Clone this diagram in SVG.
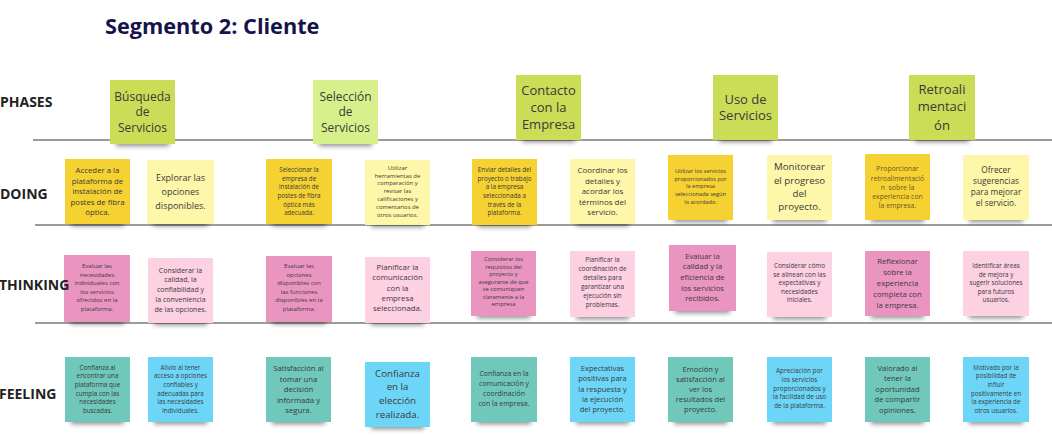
<svg xmlns="http://www.w3.org/2000/svg" width="1052" height="435" viewBox="0 0 1052 435">
<style>
.t{font-family:"Open Sans","Liberation Sans",sans-serif;fill:#3a3a3a;text-anchor:middle}
.lbl{font-family:"Open Sans","Liberation Sans",sans-serif;font-weight:bold;font-size:14px;fill:#222}
.title{font-family:"Open Sans","Liberation Sans",sans-serif;font-weight:bold;font-size:21.7px;fill:#15144a}
.sep{stroke:#7a7a7a;stroke-width:1.5;fill:none}
.sh{fill:#000;opacity:.45;filter:url(#blur)}
.lime{fill:#cbdc57}.lime2{fill:#d8f08c}
.yd{fill:#f5d131}.yl{fill:#fef6a8}
.pd{fill:#ea94c0}.pl{fill:#fdd0e2}
.tl{fill:#6fc8b9}.bl{fill:#6dd6f8}
</style>
<defs>
<filter id="blur" x="-20%" y="-100%" width="140%" height="300%"><feGaussianBlur stdDeviation="2.5"/></filter>
</defs>
<rect width="1052" height="435" fill="#fff"/>
<text class="title" x="105" y="34">Segmento 2: Cliente</text>
<g id="connectors">
<line class="sep" x1="33" y1="140" x2="1052" y2="140"/>
<line class="sep" x1="35" y1="225" x2="1052" y2="225"/>
<line class="sep" x1="35" y1="323" x2="1052" y2="323"/>
</g>
<!-- PHASES -->
<g id="phase1"><rect class="sh" x="116" y="137" width="53" height="9"/><rect class="lime" x="110" y="80" width="65" height="64"/>
<text class="t" font-size="12"><tspan x="142.5" y="101.2">Búsqueda</tspan><tspan x="142.5" y="116.4">de</tspan><tspan x="142.5" y="132">Servicios</tspan></text></g>
<g id="phase2"><rect class="sh" x="319" y="137" width="53" height="9"/><rect class="lime2" x="313" y="80" width="65" height="64"/>
<text class="t" font-size="12"><tspan x="345.5" y="101.2">Selección</tspan><tspan x="345.5" y="116.4">de</tspan><tspan x="345.5" y="132">Servicios</tspan></text></g>
<g id="phase3"><rect class="sh" x="522" y="133" width="53" height="9"/><rect class="lime" x="516" y="75" width="65" height="65"/>
<text class="t" font-size="13"><tspan x="548.5" y="95.2">Contacto</tspan><tspan x="548.5" y="112.2">con la</tspan><tspan x="548.5" y="128.8">Empresa</tspan></text></g>
<g id="phase4"><rect class="sh" x="719" y="133" width="53" height="9"/><rect class="lime" x="713" y="75" width="65" height="65"/>
<text class="t" font-size="13"><tspan x="745.5" y="103.5">Uso de</tspan><tspan x="745.5" y="120.2">Servicios</tspan></text></g>
<g id="phase5"><rect class="sh" x="915" y="133" width="54" height="9"/><rect class="lime" x="909" y="75" width="66" height="65"/>
<text class="t" font-size="13"><tspan x="942" y="93.8">Retroali</tspan><tspan x="942" y="111.2">mentaci</tspan><tspan x="942" y="129.5">ón</tspan></text></g>
<!-- DOING -->
<g id="doing1"><rect class="sh" x="71" y="217" width="53" height="9"/><rect class="yd" x="65" y="159" width="65" height="65"/>
<text class="t" font-size="7.8"><tspan x="97.5" y="172.9">Acceder a la</tspan><tspan x="97.5" y="183.5">plataforma de</tspan><tspan x="97.5" y="194.1">instalación de</tspan><tspan x="97.5" y="204.7">postes de fibra</tspan><tspan x="97.5" y="215.3">óptica.</tspan></text></g>
<g id="doing2"><rect class="sh" x="153" y="217" width="55" height="9"/><rect class="yl" x="147" y="160" width="67" height="64"/>
<text class="t" font-size="9"><tspan x="180.5" y="181.3">Explorar las</tspan><tspan x="180.5" y="195.3">opciones</tspan><tspan x="180.5" y="208.8">disponibles.</tspan></text></g>
<g id="doing3"><rect class="sh" x="272" y="217" width="54" height="9"/><rect class="yd" x="266" y="159" width="66" height="65"/>
<text class="t" font-size="6.2"><tspan x="299" y="172.2">Seleccionar la</tspan><tspan x="299" y="180.8">empresa de</tspan><tspan x="299" y="189.4">instalación de</tspan><tspan x="299" y="198">postes de fibra</tspan><tspan x="299" y="206.6">óptica más</tspan><tspan x="299" y="215.2">adecuada.</tspan></text></g>
<g id="doing4"><rect class="sh" x="371" y="218" width="53" height="9"/><rect class="yl" x="365" y="160" width="65" height="65"/>
<text class="t" font-size="5.9"><tspan x="397.5" y="169.8">Utilizar</tspan><tspan x="397.5" y="177.6">herramientas de</tspan><tspan x="397.5" y="185.4">comparación y</tspan><tspan x="397.5" y="193.2">revisar las</tspan><tspan x="397.5" y="200.9">calificaciones y</tspan><tspan x="397.5" y="208.7">comentarios de</tspan><tspan x="397.5" y="216.5">otros usuarios.</tspan></text></g>
<g id="doing5"><rect class="sh" x="478" y="218" width="53" height="9"/><rect class="yd" x="472" y="159" width="65" height="66"/>
<text class="t" font-size="6.3"><tspan x="504.5" y="172.2">Enviar detalles del</tspan><tspan x="504.5" y="180.8">proyecto o trabajo</tspan><tspan x="504.5" y="189.4">a la empresa</tspan><tspan x="504.5" y="198">seleccionada a</tspan><tspan x="504.5" y="206.6">través de la</tspan><tspan x="504.5" y="215.2">plataforma.</tspan></text></g>
<g id="doing6"><rect class="sh" x="576" y="217" width="53" height="9"/><rect class="yl" x="570" y="159" width="65" height="65"/>
<text class="t" font-size="8"><tspan x="602.5" y="172.9">Coordinar los</tspan><tspan x="602.5" y="183.5">detalles y</tspan><tspan x="602.5" y="194.1">acordar los</tspan><tspan x="602.5" y="204.7">términos del</tspan><tspan x="602.5" y="215.3">servicio.</tspan></text></g>
<g id="doing7"><rect class="sh" x="674" y="213" width="53" height="9"/><rect class="yd" x="668" y="155" width="65" height="65"/>
<text class="t" font-size="5.6"><tspan x="700.5" y="172.7">Utilizar los servicios</tspan><tspan x="700.5" y="180.5">proporcionados por</tspan><tspan x="700.5" y="188.2">la empresa</tspan><tspan x="700.5" y="196">seleccionada según</tspan><tspan x="700.5" y="203.7">lo acordado.</tspan></text></g>
<g id="doing8"><rect class="sh" x="773" y="213" width="53" height="9"/><rect class="yl" x="767" y="155" width="65" height="65"/>
<text class="t" font-size="9.7"><tspan x="799.5" y="170.2">Monitorear</tspan><tspan x="799.5" y="183.5">el progreso</tspan><tspan x="799.5" y="196.8">del</tspan><tspan x="799.5" y="210.1">proyecto.</tspan></text></g>
<g id="doing9"><rect class="sh" x="871" y="213" width="53" height="9"/><rect class="yd" x="865" y="154" width="65" height="66"/>
<text class="t" font-size="6.9" style="fill:#6e5a24"><tspan x="897.5" y="171.4">Proporcionar</tspan><tspan x="897.5" y="180.6">retroalimentació</tspan><tspan x="897.5" y="189.8">n&#160; sobre la</tspan><tspan x="897.5" y="199">experiencia con</tspan><tspan x="897.5" y="208.2">la empresa.</tspan></text></g>
<g id="doing10"><rect class="sh" x="969" y="213" width="54" height="9"/><rect class="yl" x="963" y="155" width="66" height="65"/>
<text class="t" font-size="8.3"><tspan x="996" y="173">Ofrecer</tspan><tspan x="996" y="184">sugerencias</tspan><tspan x="996" y="195">para mejorar</tspan><tspan x="996" y="206">el servicio.</tspan></text></g>
<!-- THINKING -->
<g id="thinking1"><rect class="sh" x="70" y="315" width="54" height="9"/><rect class="pd" x="64" y="255" width="66" height="67"/>
<text class="t" font-size="6"><tspan x="97" y="268.1">Evaluar las</tspan><tspan x="97" y="276.6">necesidades</tspan><tspan x="97" y="285.1">individuales con</tspan><tspan x="97" y="293.6">los servicios</tspan><tspan x="97" y="302.1">ofrecidos en la</tspan><tspan x="97" y="310.6">plataforma.</tspan></text></g>
<g id="thinking2"><rect class="sh" x="154" y="316" width="53" height="9"/><rect class="pl" x="148" y="258" width="65" height="65"/>
<text class="t" font-size="7"><tspan x="180.5" y="272.5">Considerar la</tspan><tspan x="180.5" y="282.2">calidad, la</tspan><tspan x="180.5" y="292">confiabilidad y</tspan><tspan x="180.5" y="301.7">la conveniencia</tspan><tspan x="180.5" y="311.5">de las opciones.</tspan></text></g>
<g id="thinking3"><rect class="sh" x="272" y="315" width="54" height="9"/><rect class="pd" x="266" y="256" width="66" height="66"/>
<text class="t" font-size="6"><tspan x="299" y="268.1">Evaluar las</tspan><tspan x="299" y="276.6">opciones</tspan><tspan x="299" y="285.1">disponibles con</tspan><tspan x="299" y="293.6">las funciones</tspan><tspan x="299" y="302.1">disponibles en la</tspan><tspan x="299" y="310.6">plataforma.</tspan></text></g>
<g id="thinking4"><rect class="sh" x="371" y="316" width="53" height="9"/><rect class="pl" x="365" y="257" width="65" height="66"/>
<text class="t" font-size="7.8"><tspan x="397.5" y="270">Planificar la</tspan><tspan x="397.5" y="280.3">comunicación</tspan><tspan x="397.5" y="290.5">con la</tspan><tspan x="397.5" y="300.8">empresa</tspan><tspan x="397.5" y="311">seleccionada.</tspan></text></g>
<g id="thinking5"><rect class="sh" x="477" y="309" width="53" height="9"/><rect class="pd" x="471" y="251" width="65" height="65"/>
<text class="t" font-size="5.8"><tspan x="503.5" y="261.4">Considerar los</tspan><tspan x="503.5" y="268.9">requisitos del</tspan><tspan x="503.5" y="276.3">proyecto y</tspan><tspan x="503.5" y="283.8">asegurarse de que</tspan><tspan x="503.5" y="291.2">se comuniquen</tspan><tspan x="503.5" y="298.7">claramente a la</tspan><tspan x="503.5" y="306.1">empresa</tspan></text></g>
<g id="thinking6"><rect class="sh" x="576" y="310" width="53" height="9"/><rect class="pl" x="570" y="251" width="65" height="66"/>
<text class="t" font-size="6.4"><tspan x="602.5" y="262.3">Planificar la</tspan><tspan x="602.5" y="271.3">coordinación de</tspan><tspan x="602.5" y="280.3">detalles para</tspan><tspan x="602.5" y="289.3">garantizar una</tspan><tspan x="602.5" y="298.3">ejecución sin</tspan><tspan x="602.5" y="307.3">problemas.</tspan></text></g>
<g id="thinking7"><rect class="sh" x="675" y="304" width="55" height="9"/><rect class="pd" x="669" y="245" width="67" height="66"/>
<text class="t" font-size="7.7"><tspan x="702.5" y="258.7">Evaluar la</tspan><tspan x="702.5" y="269.3">calidad y la</tspan><tspan x="702.5" y="279.9">eficiencia de</tspan><tspan x="702.5" y="290.5">los servicios</tspan><tspan x="702.5" y="301.1">recibidos.</tspan></text></g>
<g id="thinking8"><rect class="sh" x="773" y="310" width="53" height="9"/><rect class="pl" x="767" y="252" width="65" height="65"/>
<text class="t" font-size="6.4"><tspan x="799.5" y="268.2">Considerar cómo</tspan><tspan x="799.5" y="276.7">se alinean con las</tspan><tspan x="799.5" y="285.2">expectativas y</tspan><tspan x="799.5" y="293.7">necesidades</tspan><tspan x="799.5" y="302.2">iniciales.</tspan></text></g>
<g id="thinking9"><rect class="sh" x="871" y="309" width="53" height="9"/><rect class="pd" x="865" y="251" width="65" height="65"/>
<text class="t" font-size="7.7"><tspan x="897.5" y="264.4">Reflexionar</tspan><tspan x="897.5" y="275.2">sobre la</tspan><tspan x="897.5" y="286">experiencia</tspan><tspan x="897.5" y="296.8">completa con</tspan><tspan x="897.5" y="307.6">la empresa.</tspan></text></g>
<g id="thinking10"><rect class="sh" x="969" y="309" width="54" height="9"/><rect class="pl" x="963" y="251" width="66" height="65"/>
<text class="t" font-size="6.3"><tspan x="996" y="268.2">Identificar áreas</tspan><tspan x="996" y="276.7">de mejora y</tspan><tspan x="996" y="285.2">sugerir soluciones</tspan><tspan x="996" y="293.7">para futuros</tspan><tspan x="996" y="302.2">usuarios.</tspan></text></g>
<!-- FEELING -->
<g id="feeling1"><rect class="sh" x="71" y="415" width="53" height="9"/><rect class="tl" x="65" y="357" width="65" height="65"/>
<text class="t" font-size="6.3"><tspan x="97.5" y="369.5">Confianza al</tspan><tspan x="97.5" y="378.2">encontrar una</tspan><tspan x="97.5" y="386.9">plataforma que</tspan><tspan x="97.5" y="395.6">cumpla con las</tspan><tspan x="97.5" y="404.3">necesidades</tspan><tspan x="97.5" y="413">buscadas.</tspan></text></g>
<g id="feeling2"><rect class="sh" x="154" y="415" width="53" height="9"/><rect class="bl" x="148" y="357" width="65" height="65"/>
<text class="t" font-size="6.3"><tspan x="180.5" y="369.5">Alivio al tener</tspan><tspan x="180.5" y="378.2">acceso a opciones</tspan><tspan x="180.5" y="386.9">confiables y</tspan><tspan x="180.5" y="395.6">adecuadas para</tspan><tspan x="180.5" y="404.3">las necesidades</tspan><tspan x="180.5" y="413">individuales.</tspan></text></g>
<g id="feeling3"><rect class="sh" x="272" y="415" width="53" height="9"/><rect class="tl" x="266" y="357" width="65" height="65"/>
<text class="t" font-size="7.7"><tspan x="298.5" y="371">Satisfacción al</tspan><tspan x="298.5" y="381.5">tomar una</tspan><tspan x="298.5" y="392">decisión</tspan><tspan x="298.5" y="402.5">informada y</tspan><tspan x="298.5" y="413">segura.</tspan></text></g>
<g id="feeling4"><rect class="sh" x="371" y="420" width="53" height="9"/><rect class="bl" x="365" y="362" width="65" height="65"/>
<text class="t" font-size="9.7"><tspan x="397.5" y="376.7">Confianza</tspan><tspan x="397.5" y="390.4">en la</tspan><tspan x="397.5" y="404.1">elección</tspan><tspan x="397.5" y="417.8">realizada.</tspan></text></g>
<g id="feeling5"><rect class="sh" x="477" y="415" width="54" height="9"/><rect class="tl" x="471" y="357" width="66" height="65"/>
<text class="t" font-size="6.9"><tspan x="504" y="375.7">Confianza en la</tspan><tspan x="504" y="385.9">comunicación y</tspan><tspan x="504" y="396.1">coordinación</tspan><tspan x="504" y="406.3">con la empresa.</tspan></text></g>
<g id="feeling6"><rect class="sh" x="576" y="415" width="53" height="9"/><rect class="bl" x="570" y="357" width="65" height="65"/>
<text class="t" font-size="7.5"><tspan x="602.5" y="371">Expectativas</tspan><tspan x="602.5" y="381.3">positivas para</tspan><tspan x="602.5" y="391.6">la respuesta y</tspan><tspan x="602.5" y="401.9">la ejecución</tspan><tspan x="602.5" y="412.2">del proyecto.</tspan></text></g>
<g id="feeling7"><rect class="sh" x="674" y="415" width="53" height="9"/><rect class="tl" x="668" y="357" width="65" height="65"/>
<text class="t" font-size="7.5"><tspan x="700.5" y="371.5">Emoción y</tspan><tspan x="700.5" y="381.7">satisfacción al</tspan><tspan x="700.5" y="391.9">ver los</tspan><tspan x="700.5" y="402.1">resultados del</tspan><tspan x="700.5" y="412.3">proyecto.</tspan></text></g>
<g id="feeling8"><rect class="sh" x="773" y="415" width="53" height="9"/><rect class="bl" x="767" y="357" width="65" height="65"/>
<text class="t" font-size="6.4"><tspan x="799.5" y="373">Apreciación por</tspan><tspan x="799.5" y="381.8">los servicios</tspan><tspan x="799.5" y="390.6">proporcionados y</tspan><tspan x="799.5" y="399.4">la facilidad de uso</tspan><tspan x="799.5" y="408.2">de la plataforma.</tspan></text></g>
<g id="feeling9"><rect class="sh" x="871" y="415" width="53" height="9"/><rect class="tl" x="865" y="357" width="65" height="65"/>
<text class="t" font-size="7.6"><tspan x="897.5" y="371">Valorado al</tspan><tspan x="897.5" y="381.4">tener la</tspan><tspan x="897.5" y="391.8">oportunidad</tspan><tspan x="897.5" y="402.2">de compartir</tspan><tspan x="897.5" y="412.6">opiniones.</tspan></text></g>
<g id="feeling10"><rect class="sh" x="969" y="415" width="54" height="9"/><rect class="bl" x="963" y="357" width="66" height="65"/>
<text class="t" font-size="6.2"><tspan x="996" y="369.5">Motivado por la</tspan><tspan x="996" y="378.2">posibilidad de</tspan><tspan x="996" y="386.9">influir</tspan><tspan x="996" y="395.6">positivamente en</tspan><tspan x="996" y="404.3">la experiencia de</tspan><tspan x="996" y="413">otros usuarios.</tspan></text></g>
<!-- row labels -->
<text class="lbl" x="0" y="106.5">PHASES</text>
<text class="lbl" x="0" y="199">DOING</text>
<text class="lbl" x="-1" y="290">THINKING</text>
<text class="lbl" x="-1" y="399">FEELING</text>
</svg>
